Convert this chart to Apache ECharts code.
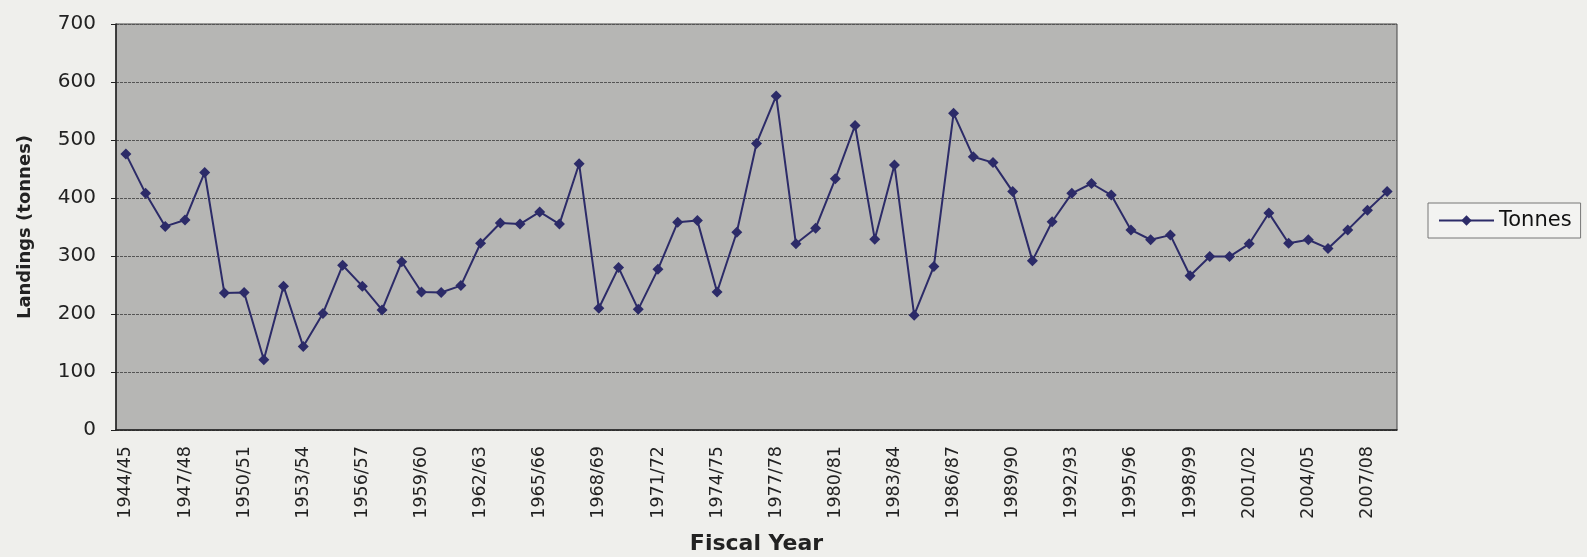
<!DOCTYPE html>
<html>
<head>
<meta charset="utf-8">
<title>Landings by fiscal year</title>
<script src="https://cdn.jsdelivr.net/npm/echarts@6/dist/echarts.min.js"></script>
<style>
  html, body { margin: 0; padding: 0; background: #efefec; }
  #chart { width: 1587px; height: 557px; }
</style>
</head>
<body>
<div id="chart"></div>
<script>
// fiscal years 1944/45 .. 2008/09
const startYears = []
for (let y = 1944; y <= 2008; y++) startYears.push(y)
const years = startYears.map(y => y + '/' + String((y + 1) % 100).padStart(2, '0'))

const tonnes = [
  476, 408, 351, 362, 444, 236, 237, 121, 248, 144,
  201, 284, 248, 207, 290, 238, 237, 249, 322, 357,
  355, 376, 355, 459, 210, 280, 208, 277, 358, 361,
  238, 341, 494, 576, 321, 348, 433, 525, 329, 457,
  198, 282, 546, 471, 461, 411, 292, 359, 408, 425,
  405, 345, 328, 336, 266, 299, 299, 321, 374, 322,
  328, 313, 345, 379, 411
]

const chart = echarts.init(document.getElementById('chart'))
const font = '"DejaVu Sans", Verdana, sans-serif'
const lineColor = '#2c2b68'

chart.setOption({
  backgroundColor: '#efefec',
  animation: false,
  textStyle: { fontFamily: font },
  grid: {
    left: 116,
    top: 24,
    right: 190,
    bottom: 127,
    outerBoundsMode: 'none',
    containLabel: false,
    show: true,
    backgroundColor: '#b6b6b4',
    borderColor: '#444',
    borderWidth: 1
  },
  legend: {
    left: 1428,
    top: 203,
    orient: 'vertical',
    data: ['Tonnes'],
    backgroundColor: '#f3f3f1',
    borderColor: '#777',
    borderWidth: 1,
    padding: [7, 9, 7, 10],
    itemWidth: 55,
    itemHeight: 13,
    textStyle: { fontSize: 21, color: '#111', fontFamily: font }
  },
  xAxis: {
    type: 'category',
    data: years,
    boundaryGap: true,
    name: 'Fiscal Year',
    nameLocation: 'middle',
    nameGap: 103,
    nameTextStyle: { fontSize: 22, fontWeight: 'bold', color: '#222' },
    axisLine: { lineStyle: { color: '#222', width: 1.5 } },
    axisTick: { interval: 0, length: 5, lineStyle: { color: '#222' } },
    axisLabel: {
      interval: 2,
      rotate: 90,
      fontSize: 17.5,
      color: '#222',
      margin: 16
    },
    splitLine: { show: false }
  },
  yAxis: {
    type: 'value',
    min: 0,
    max: 700,
    interval: 100,
    name: 'Landings (tonnes)',
    nameLocation: 'middle',
    nameGap: 82,
    nameTextStyle: { fontSize: 18, fontWeight: 'bold', color: '#222' },
    axisLine: { show: true, lineStyle: { color: '#222', width: 1.5 } },
    axisTick: { show: true, length: 5, lineStyle: { color: '#222' } },
    axisLabel: { fontSize: 20, color: '#222', margin: 20 },
    splitLine: { lineStyle: { color: '#555', width: 1, type: [3, 1] } }
  },
  series: [{
    name: 'Tonnes',
    type: 'line',
    data: tonnes,
    symbol: 'diamond',
    symbolSize: 11,
    itemStyle: { color: lineColor },
    lineStyle: { color: lineColor, width: 2 }
  }]
})
</script>
</body>
</html>
